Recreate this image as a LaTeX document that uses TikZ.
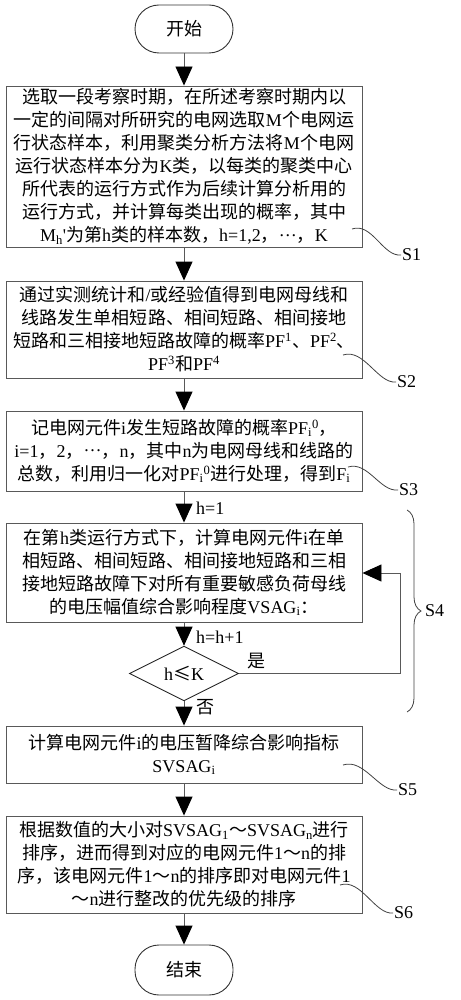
\documentclass[tikz,border=0pt]{standalone}
\usepackage{fontspec}
\setmainfont{Noto Sans CJK SC}
\newfontfamily\latf{Liberation Serif}
\newcommand\lat[1]{{\latf #1}}
\newcommand\cdotsx{\raisebox{5.5pt}{\lat{…}}}
\usetikzlibrary{arrows.meta,shapes.geometric,decorations.pathreplacing}
\tikzset{
 stepbox/.style={draw=black!65, line width=0.9pt, minimum width=356pt, inner sep=0pt, align=center, font=\fontsize{18}{23}\selectfont},
 term/.style={draw=black!80, line width=0.9pt, rounded corners=24pt, minimum width=98pt, minimum height=48pt, font=\fontsize{18}{23}\selectfont},
 decide/.style={draw=black!85, line width=0.9pt, diamond, inner sep=0pt, minimum width=109pt, minimum height=39pt, font=\fontsize{18}{23}\selectfont},
 arr/.style={draw=black!65, line width=0.9pt, -{Triangle[width=17pt,length=19pt,color=black]}},
 lbl/.style={font=\fontsize{18}{22}\selectfont, inner sep=1pt},
 lead/.style={draw=black!75, line width=0.8pt},
}
\begin{document}
\begin{tikzpicture}[x=1pt,y=-1pt]
\useasboundingbox (0,0) rectangle (460,1000);
\node[term] (start) at (184,29) {开始};
\node[stepbox, minimum height=161pt] (b1) at (184,166.5) {选取一段考察时期，在所述考察时期内以\\一定的间隔对所研究的电网选取\lat{M}个电网运\\行状态样本，利用聚类分析方法将\lat{M}个电网\\运行状态样本分为\lat{K}类，以每类的聚类中心\\所代表的运行方式作为后续计算分析用的\\运行方式，并计算每类出现的概率，其中\\\lat{M\textsubscript{h}'}为第\lat{h}类的样本数，\lat{h=1,2}，\cdotsx，\lat{K}};
\node[stepbox, minimum height=97pt] (b2) at (184,329.5) {通过实测统计和\lat{/}或经验值得到电网母线和\\线路发生单相短路、相间短路、相间接地\\短路和三相接地短路故障的概率\lat{PF\textsuperscript{1}}、\lat{PF\textsuperscript{2}}、\\\lat{PF\textsuperscript{3}}和\lat{PF\textsuperscript{4}}};
\node[stepbox, minimum height=80pt] (b3) at (184,451) {记电网元件\lat{i}发生短路故障的概率\lat{PF\textsubscript{i}\textsuperscript{0}}，\\\lat{i=1}，\lat{2}，\cdotsx，\lat{n}，其中\lat{n}为电网母线和线路的\\总数，利用归一化对\lat{PF\textsubscript{i}\textsuperscript{0}}进行处理，得到\lat{F\textsubscript{i}}};
\node[stepbox, minimum height=99pt] (b4) at (184,572.5) {在第\lat{h}类运行方式下，计算电网元件\lat{i}在单\\相短路、相间短路、相间接地短路和三相\\接地短路故障下对所有重要敏感负荷母线\\的电压幅值综合影响程度\lat{VSAG\textsubscript{i}}：};
\node[decide] (dia) at (184,673.5) {\lat{h}≤\lat{K}};
\node[stepbox, minimum height=57pt] (b5) at (184,754.5) {计算电网元件\lat{i}的电压暂降综合影响指标\\\lat{SVSAG\textsubscript{i}}};
\node[stepbox, minimum height=97pt] (b6) at (184,864.5) {根据数值的大小对\lat{SVSAG\textsubscript{1}}～\lat{SVSAG\textsubscript{n}}进行\\排序，进而得到对应的电网元件\lat{1}～\lat{n}的排\\序，该电网元件\lat{1}～\lat{n}的排序即对电网元件\lat{1}\\～\lat{n}进行整改的优先级的排序};
\node[term, minimum height=50pt] (end) at (184,970) {结束};
% connectors
\draw[arr] (start) -- (b1);
\draw[arr] (b1) -- (b2);
\draw[arr] (b2) -- (b3);
\draw[arr] (b3) -- (b4);
\draw[arr] (b4) -- (dia);
\draw[arr] (dia) -- (b5);
\draw[arr] (b5) -- (b6);
\draw[arr] (b6) -- (end);
\coordinate (loopc) at (400,573);
\draw[arr] (dia.east) -| (loopc) -- (b4.east |- loopc);
% edge labels
\node[lbl, anchor=west] (l1) at (195,508) {\lat{h=1}};
\node[lbl, anchor=west] (l2) at (195,637) {\lat{h=h+1}};
\node[lbl, anchor=west] (l3) at (246,661) {是};
\node[lbl, anchor=west] (l4) at (195,707) {否};
% step leaders
\coordinate (s1a) at (352,229); \coordinate (s1b) at (401,255);
\coordinate (s2a) at (343,355); \coordinate (s2b) at (396,382);
\coordinate (s3a) at (348,467); \coordinate (s3b) at (398,490);
\coordinate (s5a) at (343,765); \coordinate (s5b) at (397,790);
\coordinate (s6a) at (340,885); \coordinate (s6b) at (393,913);
\draw[lead] (s1a) .. controls (372,222) and (383,257) .. (s1b);
\draw[lead] (s2a) .. controls (364,348) and (378,384) .. (s2b);
\draw[lead] (s3a) .. controls (368,461) and (380,492) .. (s3b);
\draw[lead] (s5a) .. controls (364,758) and (379,792) .. (s5b);
\draw[lead] (s6a) .. controls (361,878) and (375,915) .. (s6b);
\node[lbl, anchor=west] (t1) at (s1b) {\lat{S1}};
\node[lbl, anchor=west] (t2) at (s2b) {\lat{S2}};
\node[lbl, anchor=west] (t3) at (s3b) {\lat{S3}};
\node[lbl, anchor=west] (t5) at (s5b) {\lat{S5}};
\node[lbl, anchor=west] (t6) at (s6b) {\lat{S6}};
% brace S4
\coordinate (bt) at (407,510); \coordinate (bb) at (407,712);
\draw[lead, decorate, decoration={brace, amplitude=14pt}] (bt) -- (bb);
\node[lbl, anchor=west] (t4) at (424,611) {\lat{S4}};
\end{tikzpicture}
\end{document}
